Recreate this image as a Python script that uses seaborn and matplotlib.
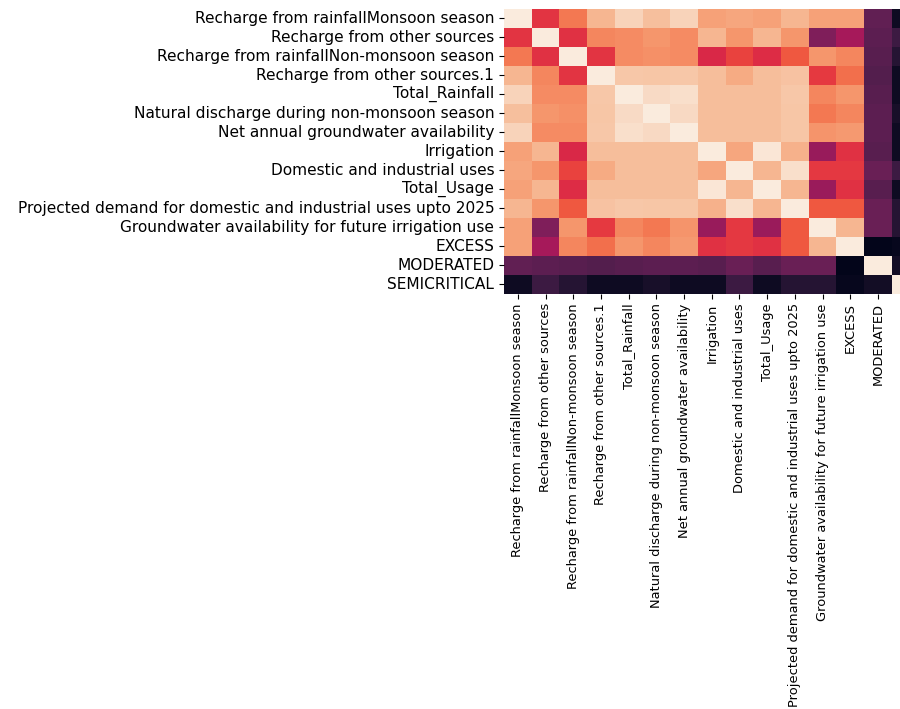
import pandas as pd
import seaborn as sns
import matplotlib
matplotlib.use("Agg")
import matplotlib.pyplot as plt

# Nombres de las variables (filas y columnas)
etiquetas = [
    "Recharge from rainfallMonsoon season",
    "Recharge from other sources",
    "Recharge from rainfallNon-monsoon season",
    "Recharge from other sources.1",
    "Total_Rainfall",
    "Natural discharge during non-monsoon season",
    "Net annual groundwater availability",
    "Irrigation",
    "Domestic and industrial uses",
    "Total_Usage",
    "Projected demand for domestic and industrial uses upto 2025",
    "Groundwater availability for future irrigation use",
    "EXCESS",
    "MODERATED",
    "SEMICRITICAL",
]

# Matriz de correlacion
correlaciones = [
    [1.00, 0.33, 0.55, 0.78, 0.90, 0.82, 0.90, 0.70, 0.72, 0.70, 0.78, 0.70, 0.70, -0.18, -0.52],
    [0.33, 1.00, 0.32, 0.60, 0.62, 0.66, 0.62, 0.78, 0.66, 0.78, 0.66, -0.07, 0.07, -0.20, -0.33],
    [0.55, 0.32, 1.00, 0.33, 0.62, 0.64, 0.62, 0.28, 0.38, 0.30, 0.45, 0.66, 0.60, -0.22, -0.42],
    [0.78, 0.60, 0.33, 1.00, 0.85, 0.84, 0.85, 0.81, 0.74, 0.81, 0.83, 0.35, 0.52, -0.24, -0.52],
    [0.90, 0.62, 0.62, 0.85, 1.00, 0.93, 0.95, 0.81, 0.81, 0.81, 0.85, 0.60, 0.66, -0.22, -0.52],
    [0.82, 0.66, 0.64, 0.84, 0.93, 1.00, 0.92, 0.81, 0.81, 0.81, 0.84, 0.55, 0.60, -0.20, -0.48],
    [0.90, 0.62, 0.62, 0.85, 0.95, 0.92, 1.00, 0.81, 0.81, 0.81, 0.84, 0.65, 0.67, -0.20, -0.52],
    [0.70, 0.78, 0.28, 0.81, 0.81, 0.81, 0.81, 1.00, 0.72, 0.98, 0.76, 0.02, 0.32, -0.22, -0.52],
    [0.72, 0.66, 0.38, 0.74, 0.81, 0.81, 0.81, 0.72, 1.00, 0.78, 0.95, 0.34, 0.34, -0.15, -0.33],
    [0.70, 0.78, 0.30, 0.81, 0.81, 0.81, 0.81, 0.98, 0.78, 1.00, 0.78, 0.03, 0.32, -0.22, -0.52],
    [0.78, 0.66, 0.45, 0.83, 0.85, 0.84, 0.84, 0.76, 0.95, 0.78, 1.00, 0.45, 0.45, -0.15, -0.42],
    [0.70, -0.07, 0.66, 0.35, 0.60, 0.55, 0.65, 0.02, 0.34, 0.03, 0.45, 1.00, 0.78, -0.15, -0.42],
    [0.70, 0.07, 0.60, 0.52, 0.66, 0.60, 0.67, 0.32, 0.34, 0.32, 0.45, 0.78, 1.00, -0.58, -0.55],
    [-0.18, -0.20, -0.22, -0.24, -0.22, -0.20, -0.20, -0.22, -0.15, -0.22, -0.15, -0.15, -0.58, 1.00, -0.50],
    [-0.52, -0.33, -0.42, -0.52, -0.52, -0.48, -0.52, -0.52, -0.33, -0.52, -0.42, -0.42, -0.55, -0.50, 1.00],
]

data = pd.DataFrame(correlaciones, index=etiquetas, columns=etiquetas)

fig = plt.figure(figsize=(9, 7.09), dpi=100)
# el mapa se sale por la derecha, como en la captura original
ax = fig.add_axes([0.56, 0.586, 0.4617, 0.402])
sns.heatmap(data, ax=ax, cbar=False, xticklabels=True, yticklabels=True)
ax.tick_params(axis="y", labelsize=11.1)
ax.tick_params(axis="x", labelsize=9.35)

plt.savefig("out.png", dpi=100)
